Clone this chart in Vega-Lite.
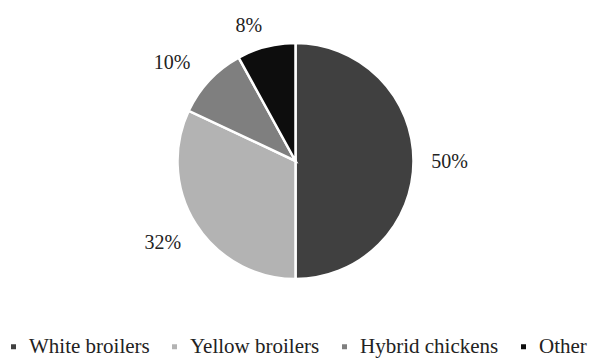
{
  "$schema": "https://vega.github.io/schema/vega-lite/v6.json",
  "width": 591,
  "height": 322,
  "autosize": "none",
  "padding": {"left": 0, "top": 0, "right": 0, "bottom": 36},
  "background": "white",
  "data": {
    "values": [
      {"category": "White broilers", "share": 0.50, "rank": 1},
      {"category": "Yellow broilers", "share": 0.32, "rank": 2},
      {"category": "Hybrid chickens", "share": 0.10, "rank": 3},
      {"category": "Other", "share": 0.08, "rank": 4}
    ]
  },
  "encoding": {
    "theta": {"field": "share", "type": "quantitative", "stack": true},
    "order": {"field": "rank", "type": "quantitative"}
  },
  "layer": [
    {
      "mark": {"type": "arc", "radius": 118, "stroke": "white", "strokeWidth": 2.5},
      "encoding": {
        "color": {
          "field": "category",
          "type": "nominal",
          "sort": ["White broilers", "Yellow broilers", "Hybrid chickens", "Other"],
          "scale": {
            "domain": ["White broilers", "Yellow broilers", "Hybrid chickens", "Other"],
            "range": ["#404040", "#b3b3b3", "#7f7f7f", "#0d0d0d"]
          },
          "legend": {
            "title": null,
            "orient": "none",
            "direction": "horizontal",
            "columns": 4,
            "legendX": 3,
            "legendY": 336,
            "padding": 0,
            "symbolType": "square",
            "symbolSize": 25,
            "symbolStrokeWidth": 0,
            "labelOffset": 5,
            "columnPadding": 14,
            "labelFont": "Liberation Serif",
            "labelFontSize": 21,
            "labelColor": "#222222",
            "labelLimit": 300
          }
        }
      }
    },
    {
      "mark": {
        "type": "text",
        "radius": {"expr": "datum.category === 'Other' ? 143 : (datum.category === 'White broilers' ? 154 : 157)"},
        "dx": {"expr": "datum.category === 'Other' ? -11 : (datum.category === 'Hybrid chickens' ? -9 : 0)"},
        "dy": {"expr": "datum.category === 'Other' ? 4 : (datum.category === 'Hybrid chickens' ? 9 : (datum.category === 'Yellow broilers' ? -2 : 1))"},
        "font": "Liberation Serif",
        "fontSize": 20,
        "fill": "#222222"
      },
      "encoding": {
        "text": {"field": "share", "type": "quantitative", "format": ".0%"}
      }
    }
  ]
}
